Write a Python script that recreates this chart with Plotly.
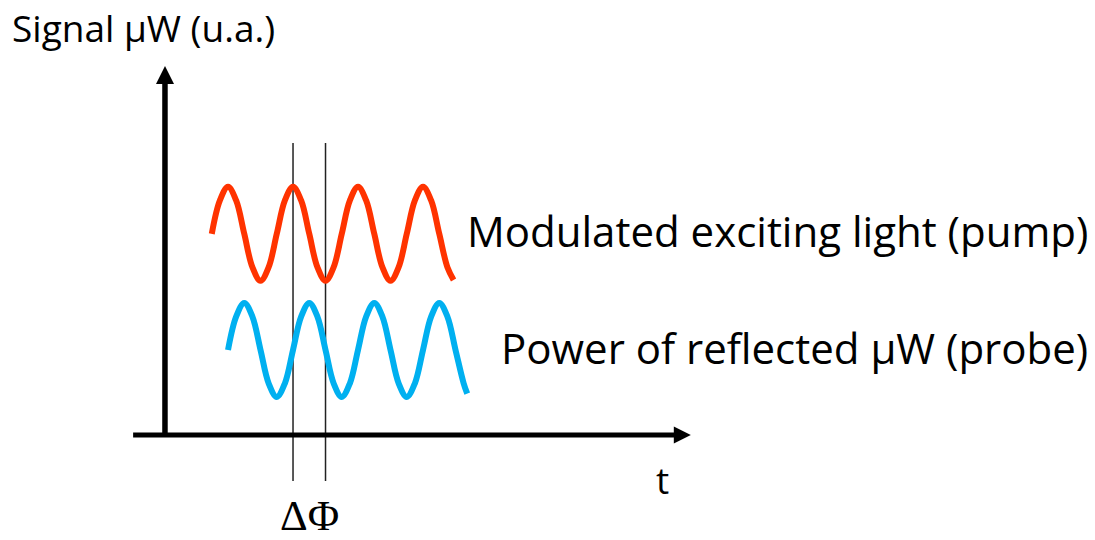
import plotly.graph_objects as go

# ---- data (time in modulation periods, signal in arbitrary units) ----
pump_t = [0.75, 0.875, 1.0, 1.125, 1.25, 1.375, 1.5, 1.625, 1.75, 1.875,
          2.0, 2.125, 2.25, 2.375, 2.5, 2.625, 2.75, 2.875, 3.0, 3.125,
          3.25, 3.375, 3.5, 3.625, 3.75, 3.875, 4.0, 4.125, 4.25, 4.375, 4.47]
pump_signal = [4.28, 4.99, 5.28, 4.99, 4.28, 3.57, 3.28, 3.57,
               4.28, 4.99, 5.28, 4.99, 4.28, 3.57, 3.28, 3.57,
               4.28, 4.99, 5.28, 4.99, 4.28, 3.57, 3.28, 3.57,
               4.28, 4.99, 5.28, 4.99, 4.28, 3.57, 3.30]

probe_t = [1.0, 1.125, 1.25, 1.375, 1.5, 1.625, 1.75, 1.875, 2.0, 2.125,
           2.25, 2.375, 2.5, 2.625, 2.75, 2.875, 3.0, 3.125, 3.25, 3.375,
           3.5, 3.625, 3.75, 3.875, 4.0, 4.125, 4.25, 4.375, 4.5, 4.625, 4.68]
probe_signal = [1.81, 2.52, 2.81, 2.52, 1.81, 1.10, 0.81, 1.10,
                1.81, 2.52, 2.81, 2.52, 1.81, 1.10, 0.81, 1.10,
                1.81, 2.52, 2.81, 2.52, 1.81, 1.10, 0.81, 1.10,
                1.81, 2.52, 2.81, 2.52, 1.81, 1.10, 0.88]

phase_marks_t = [2.0, 2.5]          # pump peak / probe crossing
phase_marks_signal = [-0.98, 6.21]  # vertical extent of marker lines

axis_origin_t = 0.03
axis_t_extent = [-0.46, 7.92, 8.12]     # start, line end, arrow tip
axis_signal_extent = [0.0, 7.55, 7.85]  # start, line end, arrow tip

labels = {
    "y_title": "Signal µW (u.a.)",
    "x_title": "t",
    "phase": "ΔΦ",
    "pump": "Modulated exciting light (pump)",
    "probe": "Power of reflected µW (probe)",
}

RED = "#FF3300"
BLUE = "#00B0F0"
SANS = "Open Sans, Lato, sans-serif"
SERIF = "Liberation Serif, DejaVu Serif, serif"

X_RANGE = [-2.508, 14.338]
Y_RANGE = [-2.234, 9.255]

fig = go.Figure()

# phase marker lines
for t in phase_marks_t:
    fig.add_trace(go.Scatter(x=[t, t], y=phase_marks_signal, mode="lines",
                             line=dict(color="#222222", width=1.5),
                             hoverinfo="skip"))

# waves
fig.add_trace(go.Scatter(x=pump_t, y=pump_signal, mode="lines",
                         line=dict(color=RED, width=6, shape="spline", smoothing=1.0),
                         hoverinfo="skip"))
fig.add_trace(go.Scatter(x=probe_t, y=probe_signal, mode="lines",
                         line=dict(color=BLUE, width=6, shape="spline", smoothing=1.0),
                         hoverinfo="skip"))

# axes with arrows
fig.add_trace(go.Scatter(x=[axis_origin_t, axis_origin_t],
                         y=[axis_signal_extent[0], axis_signal_extent[1]],
                         mode="lines", line=dict(color="black", width=5.5),
                         hoverinfo="skip"))
fig.add_trace(go.Scatter(x=[axis_t_extent[0], axis_t_extent[1]],
                         y=[0.0, 0.0], mode="lines",
                         line=dict(color="black", width=5),
                         hoverinfo="skip"))
fig.add_trace(go.Scatter(x=[axis_origin_t], y=[axis_signal_extent[2]], mode="markers",
                         marker=dict(symbol="arrow-up", size=18, color="black",
                                     line=dict(width=0)),
                         hoverinfo="skip"))
fig.add_trace(go.Scatter(x=[axis_t_extent[2]], y=[0.0], mode="markers",
                         marker=dict(symbol="arrow-right", size=17, color="black",
                                     line=dict(width=0)),
                         hoverinfo="skip"))

# text
fig.add_annotation(x=-2.354, y=8.66, text=labels["y_title"], showarrow=False,
                   xanchor="left", yanchor="middle",
                   font=dict(family=SANS, size=37, color="black"))
fig.add_annotation(x=7.69, y=-0.94, text=labels["x_title"], showarrow=False,
                   xanchor="center", yanchor="middle",
                   font=dict(family=SANS, size=37, color="black"))
fig.add_annotation(x=2.246, y=Y_RANGE[0], text=labels["phase"], showarrow=False,
                   xanchor="center", yanchor="bottom", borderpad=0,
                   font=dict(family=SERIF, size=43, color="black"))
fig.add_annotation(x=14.26, y=4.36, text=labels["pump"], showarrow=False,
                   xanchor="right", yanchor="middle",
                   font=dict(family=SANS, size=42, color="black"))
fig.add_annotation(x=14.26, y=1.86, text=labels["probe"], showarrow=False,
                   xanchor="right", yanchor="middle",
                   font=dict(family=SANS, size=42, color="black"))

fig.update_layout(
    width=1095, height=540,
    margin=dict(l=0, r=0, t=0, b=0),
    paper_bgcolor="white", plot_bgcolor="white",
    showlegend=False,
    xaxis=dict(visible=False, range=X_RANGE, fixedrange=True),
    yaxis=dict(visible=False, range=Y_RANGE, fixedrange=True),
)

fig.write_html("out.html", config={"displayModeBar": False},
               post_script="document.body.style.margin='0';"
                           "document.body.style.overflow='hidden';")
